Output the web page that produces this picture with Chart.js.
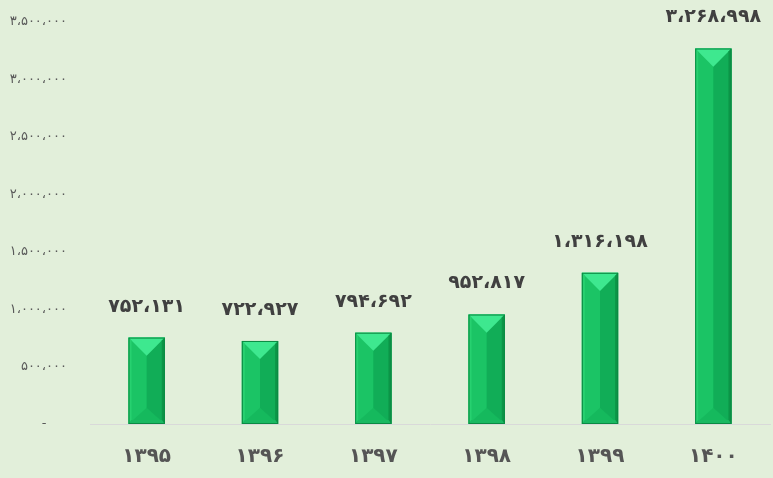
<!DOCTYPE html>
<html>
<head>
<meta charset="utf-8">
<script src="https://cdn.jsdelivr.net/npm/chart.js@4/dist/chart.umd.min.js"></script>
<style>
  html, body { margin: 0; padding: 0; background: #e2efda; }
  #wrap { width: 773px; height: 478px; position: relative; }
</style>
</head>
<body>
<div id="wrap"><canvas id="c" width="773" height="478"></canvas></div>
<script>
const years = ['۱۳۹۵', '۱۳۹۶', '۱۳۹۷', '۱۳۹۸', '۱۳۹۹', '۱۴۰۰'];
const values = [752131, 722927, 794692, 952817, 1316198, 3268998];
const yTicks = [0, 500000, 1000000, 1500000, 2000000, 2500000, 3000000, 3500000];

const faDigits = '۰۱۲۳۴۵۶۷۸۹';
function toFa(n) {
  const s = String(Math.round(n)).replace(/\B(?=(\d{3})+(?!\d))/g, '،');
  return s.replace(/\d/g, d => faDigits[+d]);
}

const bevelPlugin = {
  id: 'bevel',
  afterDatasetsDraw(chart) {
    const ctx = chart.ctx;
    const meta = chart.getDatasetMeta(0);
    meta.data.forEach((bar, i) => {
      const w = bar.width, l = bar.x - w / 2, r = bar.x + w / 2, t = bar.y, b = bar.base;
      const tip = Math.min(w * 0.5, (b - t) * 0.5);
      const bb = Math.min(4, (b - t) * 0.1);
      ctx.save();
      ctx.fillStyle = '#1bc465';
      ctx.fillRect(l, t, w / 2, b - t);
      ctx.fillStyle = '#11ad57';
      ctx.fillRect(bar.x, t, w / 2, b - t);
      ctx.beginPath();
      ctx.moveTo(l, b); ctx.lineTo(r, b); ctx.lineTo(bar.x, b - tip * 0.9); ctx.closePath();
      ctx.fillStyle = '#15b95d';
      ctx.fill();
      ctx.beginPath();
      ctx.moveTo(l, t); ctx.lineTo(r, t); ctx.lineTo(bar.x, t + tip); ctx.closePath();
      ctx.fillStyle = '#3ee88f';
      ctx.fill();
      ctx.beginPath();
      ctx.moveTo(l, t); ctx.lineTo(l + 3, t + 3); ctx.lineTo(l + 3, b - bb); ctx.lineTo(l, b); ctx.closePath();
      ctx.fillStyle = '#27d170';
      ctx.fill();
      ctx.beginPath();
      ctx.moveTo(r, t); ctx.lineTo(r - 3, t + 3); ctx.lineTo(r - 3, b - bb); ctx.lineTo(r, b); ctx.closePath();
      ctx.fillStyle = '#0c9447';
      ctx.fill();
      ctx.beginPath();
      ctx.moveTo(l, b); ctx.lineTo(l + 3, b - bb); ctx.lineTo(r - 3, b - bb); ctx.lineTo(r, b); ctx.closePath();
      ctx.fillStyle = '#1ab962';
      ctx.fill();
      ctx.strokeStyle = '#0b8a43';
      ctx.lineWidth = 1;
      ctx.strokeRect(l + 0.5, t + 0.5, w - 1, b - t - 1);
      ctx.restore();
      ctx.save();
      ctx.font = 'bold 19px "DejaVu Sans"';
      ctx.fillStyle = '#404040';
      ctx.textAlign = 'center';
      ctx.textBaseline = 'middle';
      ctx.fillText(toFa(values[i]), bar.x, t - 31);
      ctx.restore();
    });
  }
};

new Chart(document.getElementById('c'), {
  type: 'bar',
  data: {
    labels: years,
    datasets: [{
      data: values,
      backgroundColor: '#17c362',
      borderWidth: 0,
      barPercentage: 0.32,
      categoryPercentage: 1.0
    }]
  },
  options: {
    responsive: false,
    animation: false,
    events: [],
    layout: { padding: { top: 22, right: 3, left: 0, bottom: 0 } },
    plugins: { legend: { display: false }, tooltip: { enabled: false } },
    scales: {
      x: {
        grid: { display: false, drawTicks: false },
        border: { display: true, color: '#d9d9d9', width: 1 },
        ticks: {
          color: '#555555',
          font: { family: 'DejaVu Sans', size: 20, weight: 'bold' },
          padding: 21
        },
        afterFit(scale) { scale.height = 54; scale.paddingLeft = 0; scale.paddingRight = 0; }
      },
      y: {
        min: 0, max: 3500000,
        grid: { display: false, drawTicks: false },
        border: { display: false },
        afterBuildTicks(scale) { scale.ticks = yTicks.map(v => ({ value: v })); },
        ticks: {
          color: '#595959',
          font: { family: 'DejaVu Sans', size: 13 },
          padding: 23,
          callback: v => v === 0 ? '-     ' : toFa(v)
        },
        afterFit(scale) { scale.width = 90; scale.paddingTop = 0; scale.paddingBottom = 0; }
      }
    }
  },
  plugins: [bevelPlugin]
});
</script>
</body>
</html>
